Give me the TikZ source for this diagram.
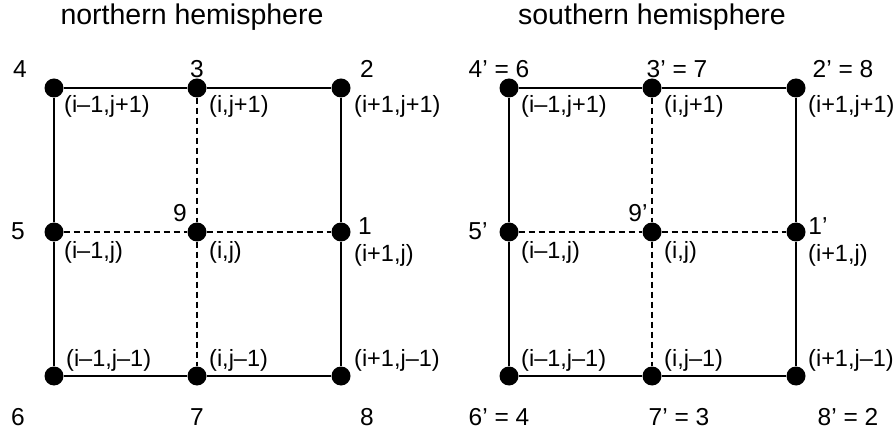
\documentclass[tikz,border=0pt]{standalone}
\usepackage{fontspec}
\setmainfont{Liberation Sans}
\usetikzlibrary{positioning}

\begin{document}
\begin{tikzpicture}[x=1pt, y=-1pt,
  gridpt/.style={circle, fill=black, inner sep=0pt, minimum size=19pt},
  edgeline/.style={line width=2.8pt},
  innerline/.style={line width=2.8pt, dash pattern=on 6pt off 4pt},
  idx/.style={anchor=west, inner sep=0pt, font=\fontsize{23.5}{23.5}\selectfont},
  num/.style={anchor=base, inner sep=0pt, font=\fontsize{24.5}{24.5}\selectfont},
  hemi/.style={anchor=base, inner sep=0pt, font=\fontsize{28.5}{28.5}\selectfont}]
  \useasboundingbox (0,0) rectangle (893,435);

  % titles
  \node[hemi] (ntitle) at (192,25) {northern hemisphere};
  \node[hemi] (stitle) at (652,25) {southern hemisphere};

  % northern grid points
  \node[gridpt] (nw) at (54,88) {};
  \node[gridpt] (n) at (197,88) {};
  \node[gridpt] (ne) at (341,88) {};
  \node[gridpt] (w) at (54,232) {};
  \node[gridpt] (c) at (197,232) {};
  \node[gridpt] (e) at (341,232) {};
  \node[gridpt] (sw) at (54,376) {};
  \node[gridpt] (s) at (197,376) {};
  \node[gridpt] (se) at (341,376) {};

  \draw[edgeline] (nw) -- (n) -- (ne) -- (e) -- (se) -- (s) -- (sw) -- (w) -- (nw);
  \draw[innerline] (n) -- (c) -- (s);
  \draw[innerline] (w) -- (c) -- (e);

  % southern grid points
  \node[gridpt] (rnw) at (509,88) {};
  \node[gridpt] (rn) at (652,88) {};
  \node[gridpt] (rne) at (796,88) {};
  \node[gridpt] (rw) at (509,232) {};
  \node[gridpt] (rc) at (652,232) {};
  \node[gridpt] (re) at (796,232) {};
  \node[gridpt] (rsw) at (509,376) {};
  \node[gridpt] (rs) at (652,376) {};
  \node[gridpt] (rse) at (796,376) {};

  \draw[edgeline] (rnw) -- (rn) -- (rne) -- (re) -- (rse) -- (rs) -- (rsw) -- (rw) -- (rnw);
  \draw[innerline] (rn) -- (rc) -- (rs);
  \draw[innerline] (rw) -- (rc) -- (re);

  % northern numbers
  \node[num] (l4) at (20,78) {4};
  \node[num] (l3) at (197,78) {3};
  \node[num] (l2) at (367,78) {2};
  \node[num] (l5) at (18,240) {5};
  \node[num] (l9) at (180,222) {9};
  \node[num] (l1) at (365,235) {1};
  \node[num] (l6) at (18,425) {6};
  \node[num] (l7) at (197,425) {7};
  \node[num] (l8) at (367,425) {8};

  % southern numbers
  \node[num] (r4) at (499,78) {4’ = 6};
  \node[num] (r3) at (677,78) {3’ = 7};
  \node[num] (r2) at (843,78) {2’ = 8};
  \node[num] (r5) at (478,240) {5’};
  \node[num] (r9) at (638,222) {9’};
  \node[num] (r1) at (818,235) {1’};
  \node[num] (r6) at (499,425) {6’ = 4};
  \node[num] (r7) at (679,425) {7’ = 3};
  \node[num] (r8) at (848,425) {8’ = 2};

  % northern indices
  \node[idx] (inw) at (64,106) {(i–1,j+1)};
  \node[idx] (in) at (209,106) {(i,j+1)};
  \node[idx] (ine) at (354,106) {(i+1,j+1)};
  \node[idx] (iw) at (64,252) {(i–1,j)};
  \node[idx] (ic) at (209,252) {(i,j)};
  \node[idx] (ie) at (354,255) {(i+1,j)};
  \node[idx] (isw) at (66,360) {(i–1,j–1)};
  \node[idx] (is) at (209,360) {(i,j–1)};
  \node[idx] (ise) at (354,360) {(i+1,j–1)};

  % southern indices
  \node[idx] (jnw) at (521,106) {(i–1,j+1)};
  \node[idx] (jn) at (664,106) {(i,j+1)};
  \node[idx] (jne) at (808,106) {(i+1,j+1)};
  \node[idx] (jw) at (521,252) {(i–1,j)};
  \node[idx] (jc) at (664,252) {(i,j)};
  \node[idx] (je) at (808,255) {(i+1,j)};
  \node[idx] (jsw) at (521,360) {(i–1,j–1)};
  \node[idx] (js) at (664,360) {(i,j–1)};
  \node[idx] (jse) at (808,360) {(i+1,j–1)};
\end{tikzpicture}
\end{document}
